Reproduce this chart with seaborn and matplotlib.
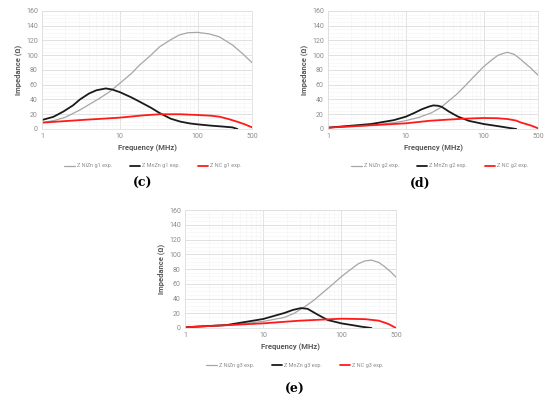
import numpy as np
import pandas as pd
import matplotlib
matplotlib.use("Agg")
import matplotlib.pyplot as plt
import seaborn as sns
from matplotlib.ticker import FixedLocator, NullFormatter, MultipleLocator

# ---- data ----
# Panel (c)
c_nizn_f = [1, 1.5, 2, 3.07, 4, 5.5, 7.5, 10, 14, 18, 25, 32.6, 45, 58, 75, 100, 140, 190, 280, 380, 500]
c_nizn_z = [8.6, 12, 16, 25.8, 33, 41.6, 51, 62, 75, 86.8, 100, 111.6, 121, 127.5, 130.5, 131, 129, 125, 114, 102, 90]
c_mnzn_f = [1, 1.4, 1.87, 2.5, 3.07, 4, 5, 6.6, 8, 10, 14, 18, 25, 32.6, 45, 60, 80, 100, 150, 200, 280, 325]
c_mnzn_z = [12.2, 16.5, 23.5, 32, 40, 48, 52.5, 55, 53.5, 50, 43, 37, 29, 21.6, 14, 10, 7.5, 6.3, 4.5, 3.5, 2.2, 0]
c_nc_f = [1, 3, 10, 20, 32.6, 60, 100, 150, 190, 250, 320, 400, 500]
c_nc_z = [8.6, 12, 15.4, 18.5, 20, 20, 19, 18, 16.7, 13.5, 10, 6.5, 2.3]

# Panel (d)
d_nizn_f = [1, 3.6, 7, 10, 15, 21.4, 28, 34.6, 45, 56, 75, 100, 125, 153, 180, 203, 250, 305, 400, 500]
d_nizn_z = [1.8, 5, 8.5, 11.3, 16, 22, 29, 37, 47, 57, 71, 84.5, 93, 100, 102.5, 104, 101, 93.6, 83, 73]
d_mnzn_f = [1, 3.6, 7, 10, 13, 16, 20, 22.6, 26, 29, 36, 47, 65, 100, 150, 203, 263]
d_mnzn_z = [1.8, 6.8, 12, 16.7, 22, 26.7, 30.5, 32, 31.5, 30, 23.5, 16.7, 11, 6.8, 4, 1.8, 0]
d_nc_f = [1, 10, 21, 56, 100, 150, 203, 260, 305, 400, 500]
d_nc_z = [1.8, 7.7, 11.3, 14, 14.9, 14.6, 13.5, 11.5, 8.6, 5, 1]

# Panel (e)
e_nizn_f = [1, 3.4, 10, 18.6, 25, 33.5, 45, 55, 75, 100, 130, 163, 200, 243, 300, 360, 430, 500]
e_nizn_z = [1.1, 3.5, 8.9, 14.3, 20, 28.4, 38, 46, 58, 69.6, 79, 86.8, 91, 92, 89, 83, 76, 69]
e_mnzn_f = [1, 3.4, 10, 15, 18.6, 24, 30.5, 37, 50, 67, 100, 140, 180, 243]
e_mnzn_z = [1.0, 4, 12.2, 17.5, 20.3, 24.5, 27, 26, 18, 10.8, 6.3, 3.8, 1.8, 0]
e_nc_f = [1, 10, 30, 100, 200, 300, 400, 500]
e_nc_z = [1.0, 6.3, 10, 12.6, 12, 10, 5.5, 0]

panels = [
    ("(c)", "g1", (c_nizn_f, c_nizn_z), (c_mnzn_f, c_mnzn_z), (c_nc_f, c_nc_z)),
    ("(d)", "g2", (d_nizn_f, d_nizn_z), (d_mnzn_f, d_mnzn_z), (d_nc_f, d_nc_z)),
    ("(e)", "g3", (e_nizn_f, e_nizn_z), (e_mnzn_f, e_mnzn_z), (e_nc_f, e_nc_z)),
]

x_ticks = [1, 10, 100, 500]
x_ticklabels = ["1", "10", "100", "500"]
y_ticks = [0, 20, 40, 60, 80, 100, 120, 140, 160]

sns.set_style("white")
plt.rcParams["font.family"] = ["Roboto", "DejaVu Sans"]

W, H = 550, 394
fig = plt.figure(figsize=(5.5, 3.94), dpi=100)

# axes rects in pixels: left, top, right, bottom
rects = [(42, 11, 252, 129), (328, 11, 538, 129), (185, 210, 396, 328)]
caption_pos = [(143, 183), (420, 183), (295, 389)]
legend_cx = [153, 440, 295]

tick_col = "#8c8c8c"
label_col = "#595959"

for (name, g, nz, mz, nc), (l, t, r, b), (cx, cy), lcx in zip(panels, rects, caption_pos, legend_cx):
    ax = fig.add_axes([l / W, 1 - b / H, (r - l) / W, (b - t) / H])
    sns.lineplot(x=nz[0], y=nz[1], ax=ax, color="#a6a6a6", linewidth=0.9,
                 label=f"Z NiZn {g} exp.")
    sns.lineplot(x=mz[0], y=mz[1], ax=ax, color="#1a1a1a", linewidth=1.3,
                 label=f"Z MnZn {g} exp.")
    sns.lineplot(x=nc[0], y=nc[1], ax=ax, color="#ff1a1a", linewidth=1.3,
                 label=f"Z NC {g} exp.")
    ax.set_xscale("log")
    ax.set_xlim(1, 500)
    ax.set_ylim(0, 160)
    ax.xaxis.set_major_locator(FixedLocator(x_ticks))
    ax.set_xticklabels(x_ticklabels)
    minors = [m * d for d in [1, 10, 100] for m in range(2, 10) if m * d < 500]
    ax.xaxis.set_minor_locator(FixedLocator(minors))
    ax.xaxis.set_minor_formatter(NullFormatter())
    ax.yaxis.set_major_locator(FixedLocator(y_ticks))
    ax.yaxis.set_minor_locator(MultipleLocator(5))
    ax.grid(True, which="major", color="#dcdcdc", linewidth=0.6)
    ax.grid(True, which="minor", color="#f3f3f3", linewidth=0.4)
    ax.set_axisbelow(True)
    for s in ax.spines.values():
        s.set_color("#e0e0e0")
        s.set_linewidth(0.6)
    ax.tick_params(axis="both", which="both", length=0, labelsize=5,
                   labelcolor=tick_col, pad=3)
    ax.set_xlabel("Frequency (MHz)", fontsize=5.5, fontweight="bold",
                  color=label_col, labelpad=3)
    ax.set_ylabel("Impedance (Ω)", fontsize=5.5, fontweight="bold",
                  color=label_col, labelpad=3)
    ax.legend(loc="upper center", bbox_to_anchor=((lcx - l) / (r - l), -0.25), ncol=3,
              frameon=False, fontsize=4.0, handlelength=1.9,
              handletextpad=0.3, columnspacing=3.2, labelcolor=tick_col)
    fig.text(cx / W, 1 - cy / H, name, ha="center", va="center",
             fontsize=9, fontweight="bold", family="DejaVu Serif", color="black")

fig.savefig("out.png", dpi=100)
